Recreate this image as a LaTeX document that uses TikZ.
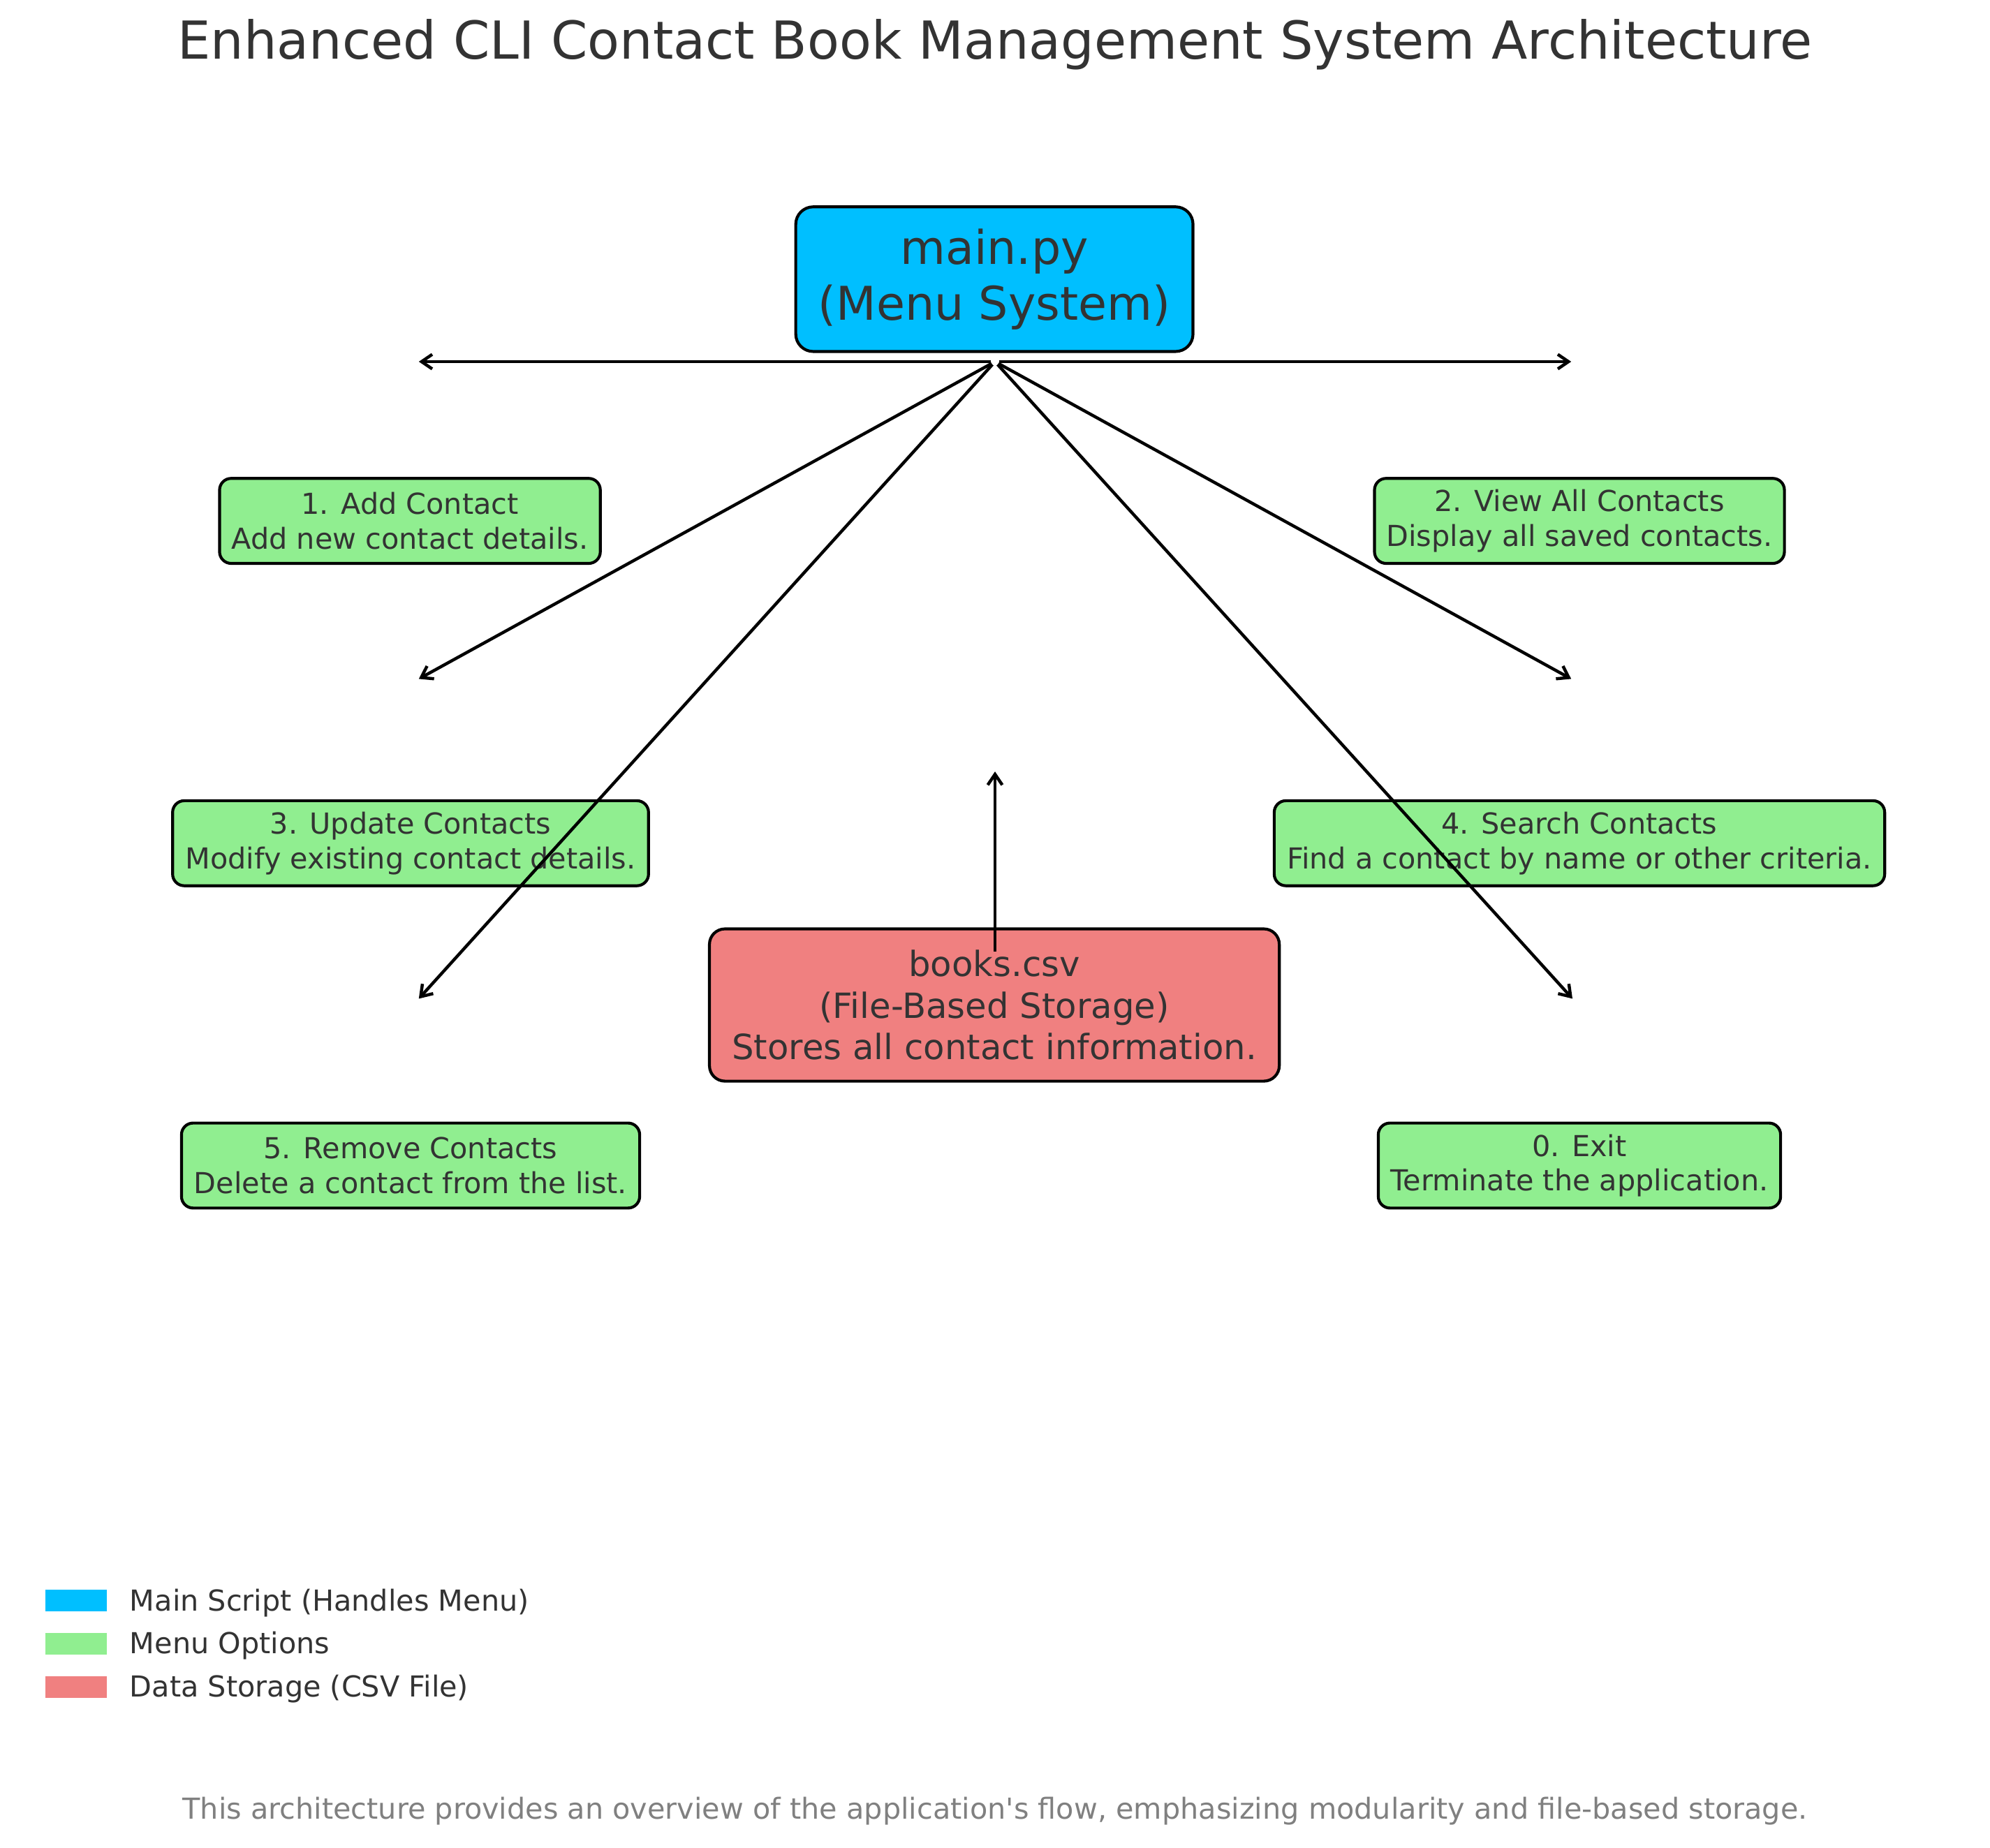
\documentclass[tikz,border=0pt]{standalone}
\usepackage{fontspec}
\setmainfont{DejaVu Sans}
\newfontfamily\plainfont{DejaVu Sans}
\usetikzlibrary{arrows.meta}
\definecolor{txt}{HTML}{333333}
\definecolor{footgray}{HTML}{808080}
\definecolor{mainblue}{HTML}{00BFFF}
\definecolor{optgreen}{HTML}{90EE90}
\definecolor{storered}{HTML}{F08080}
\newcommand\upx{0.6545pt}
\tikzset{
  box/.style={draw=black, line width=1.5pt, rounded corners=6pt, inner sep=0pt, align=center, text=txt},
  mainbox/.style={box, fill=mainblue, rounded corners=9pt, font=\fontsize{24}{28.8}\selectfont},
  optbox/.style={box, fill=optgreen, font=\fontsize{14.9}{17.9}\selectfont, minimum height=67*\upx},
  storebox/.style={box, fill=storered, rounded corners=8pt, font=\fontsize{17.9}{21.5}\selectfont},
  arr/.style={draw=black, line width=1.6pt, shorten <=2pt, -{Straight Barb[length=5.5pt,width=7.5pt]}},
  legpatch/.style={fill=#1, draw=none, minimum width=48*\upx, minimum height=17*\upx, inner sep=0pt},
  legtext/.style={anchor=west, text=txt, font=\fontsize{14.9}{17.9}\selectfont, inner sep=0pt},
}
\begin{document}
\begin{tikzpicture}[x=0.6545pt, y=-0.6545pt]
\useasboundingbox (0,0) rectangle (1568,1456);
\fill[white] (0,0) rectangle (1568,1456);

\node[text=txt, font=\fontsize{27}{32}\selectfont] (title) at (784,35) {Enhanced CLI Contact Book Management System Architecture};

\node[mainbox, minimum width=313*\upx, minimum height=114*\upx] (main) at (783.5,220) {main.py\\(Menu System)};

\node[optbox, minimum width=300*\upx] (o1) at (323,410.5) {1. Add Contact\\Add new contact details.};
\node[optbox, minimum width=323*\upx] (o2) at (1244.5,410.5) {2. View All Contacts\\Display all saved contacts.};
\node[optbox, minimum width=375*\upx] (o3) at (323.5,664.5) {3. Update Contacts\\Modify existing contact details.};
\node[optbox, minimum width=481*\upx] (o4) at (1244.5,664.5) {4. Search Contacts\\Find a contact by name or other criteria.};
\node[optbox, minimum width=361*\upx] (o5) at (323.5,918.5) {5. Remove Contacts\\Delete a contact from the list.};
\node[optbox, minimum width=317*\upx] (o0) at (1244.5,918.5) {0. Exit\\Terminate the application.};

\node[storebox, minimum width=449*\upx, minimum height=120*\upx] (books) at (783.5,792) {books.csv\\(File-Based Storage)\\Stores all contact information.};

\coordinate (src) at (784,285);
\coordinate (tl1) at (330,285);
\coordinate (tr1) at (1238,285);
\coordinate (tl2) at (330,535);
\coordinate (tr2) at (1238,535);
\coordinate (tl3) at (330,787);
\coordinate (tr3) at (1239,787);
\coordinate (bsrc) at (784,750);
\coordinate (btgt) at (784,608);

\draw[arr] (src) -- (tl1);
\draw[arr] (src) -- (tr1);
\draw[arr] (src) -- (tl2);
\draw[arr] (src) -- (tr2);
\draw[arr] (src) -- (tl3);
\draw[arr] (src) -- (tr3);
\draw[arr, shorten <=0pt] (bsrc) -- (btgt);

\node[legpatch=mainblue] (p1) at (60,1261.5) {};
\node[legpatch=optgreen] (p2) at (60,1295.5) {};
\node[legpatch=storered] (p3) at (60,1329.5) {};
\node[legtext] (l1) at (102,1263) {Main Script (Handles Menu)};
\node[legtext] (l2) at (102,1297) {Menu Options};
\node[legtext] (l3) at (102,1331) {Data Storage (CSV File)};

\node[text=footgray, font=\plainfont\fontsize{14.9}{17.9}\selectfont] (foot) at (784,1427) {This architecture provides an overview of the application's flow, emphasizing modularity and file-based storage.};
\end{tikzpicture}
\end{document}
